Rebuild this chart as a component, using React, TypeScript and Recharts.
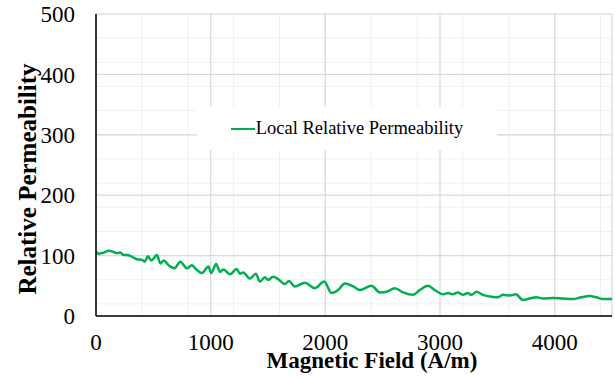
import React from 'react';
import {
  LineChart,
  Line,
  XAxis,
  YAxis,
  CartesianGrid,
  Legend,
} from 'recharts';

// Magnetic field (A/m) sample points
const fieldValues = [
  0, 23, 67, 110, 154, 183, 212, 241, 270, 314, 357, 401, 424, 453, 482, 532,
  561, 590, 633, 685, 735, 793, 836, 865, 923, 981, 1004, 1048, 1082, 1111,
  1170, 1226, 1255, 1284, 1342, 1394, 1429, 1473, 1502, 1545, 1589, 1647,
  1682, 1734, 1821, 1908, 1990, 2054, 2112, 2170, 2243, 2301, 2403, 2475,
  2533, 2606, 2678, 2765, 2824, 2896, 2954, 3027, 3070, 3108, 3157, 3201,
  3244, 3274, 3318, 3375, 3448, 3506, 3550, 3608, 3660, 3724, 3782, 3840,
  3898, 3985, 4072, 4160, 4232, 4305, 4363, 4421, 4500,
];

// Local relative permeability at each field point
const permeabilityValues = [
  106, 103, 105, 108, 106, 104, 105, 101, 101, 98, 94, 93, 90, 99, 92, 101,
  87, 92, 84, 79, 90, 79, 84, 79, 71, 82, 71, 86, 73, 77,
  69, 78, 70, 72, 62, 70, 57, 64, 60, 65, 61, 53,
  58, 49, 55, 46, 57, 38, 43, 54, 49, 43, 50, 39,
  40, 46, 39, 35, 43, 50, 43, 36, 38, 36, 39, 35,
  38, 35, 40, 35, 32, 31, 35, 34, 36, 26.5, 29, 31,
  29, 30, 29, 28, 31, 33, 31, 28, 28,
];

const xTicks = [0, 1000, 2000, 3000, 4000];
const yTicks = [0, 100, 200, 300, 400, 500];

const xMajorGrid = [0, 1000, 2000, 3000, 4000, 4500];
const yMajorGrid = [0, 100, 200, 300, 400, 500];
const xMinorGrid = Array.from({ length: 23 }, (_, i) => i * 200);
const yMinorGrid = Array.from({ length: 26 }, (_, i) => i * 20);

const LINE_COLOR = '#00b050';
const FONT = '"Liberation Serif", "Times New Roman", serif';

const data = fieldValues.map((x, i) => ({ x, y: permeabilityValues[i] }));

const LegendBox = () => (
  <div
    style={{
      background: '#fff',
      width: 300,
      height: 43,
      display: 'flex',
      alignItems: 'center',
      justifyContent: 'center',
      fontFamily: FONT,
      fontSize: 18.5,
      color: '#000',
    }}
  >
    <span
      style={{
        display: 'inline-block',
        width: 24,
        height: 0,
        borderTop: `2.5px solid ${LINE_COLOR}`,
        marginRight: 1,
      }}
    />
    <span>Local Relative Permeability</span>
  </div>
);

// axis titles are placed relative to the axis boxes
const XTitle = ({ viewBox }: any) => (
  <text
    x={viewBox.x + viewBox.width / 2 + 18}
    y={viewBox.y + 52}
    textAnchor="middle"
    fill="#000"
    fontFamily={FONT}
    fontSize={23}
    fontWeight="bold"
  >
    Magnetic Field (A/m)
  </text>
);

const YTitle = ({ viewBox }: any) => {
  const cx = viewBox.x + viewBox.width - 69;
  const cy = viewBox.y + viewBox.height / 2 + 14;
  return (
    <text
      x={cx}
      y={cy}
      transform={`rotate(-90 ${cx} ${cy})`}
      textAnchor="middle"
      dominantBaseline="central"
      fill="#000"
      fontFamily={FONT}
      fontSize={25}
      fontWeight="bold"
    >
      Relative Permeability
    </text>
  );
};

export default function App() {
  return (
    <div style={{ position: 'absolute', left: 0, top: 0, width: 615, height: 378, background: '#fff' }}>
      <LineChart
        width={615}
        height={378}
        data={data}
        margin={{ top: 14, right: 3, bottom: 0, left: 36 }}
      >
        <CartesianGrid
          stroke="#f0f0f0"
          strokeWidth={1}
          horizontalValues={yMinorGrid}
          verticalValues={xMinorGrid}
        />
        <CartesianGrid
          stroke="#d9d9d9"
          strokeWidth={1.2}
          horizontalValues={yMajorGrid}
          verticalValues={xMajorGrid}
        />
        <XAxis
          type="number"
          dataKey="x"
          domain={[0, 4500]}
          ticks={xTicks}
          allowDataOverflow
          height={62}
          tickLine={false}
          tickSize={0}
          tickMargin={18}
          axisLine={{ stroke: '#000', strokeWidth: 1.5 }}
          tick={{ fill: '#000', fontFamily: FONT, fontSize: 23 }}
          label={<XTitle />}
        />
        <YAxis
          type="number"
          domain={[0, 500]}
          ticks={yTicks}
          width={60}
          tickLine={false}
          tickSize={0}
          tickMargin={21}
          axisLine={{ stroke: '#000', strokeWidth: 1.5 }}
          tick={{ fill: '#000', fontFamily: FONT, fontSize: 23 }}
          label={<YTitle />}
        />
        <Legend
          layout="vertical"
          align="center"
          verticalAlign="middle"
          content={<LegendBox />}
          wrapperStyle={{ left: 197, top: 107, width: 300, height: 43 }}
        />
        <Line
          type="monotone"
          dataKey="y"
          name="Local Relative Permeability"
          stroke={LINE_COLOR}
          strokeWidth={2.5}
          dot={false}
          isAnimationActive={false}
        />
      </LineChart>
    </div>
  );
}
